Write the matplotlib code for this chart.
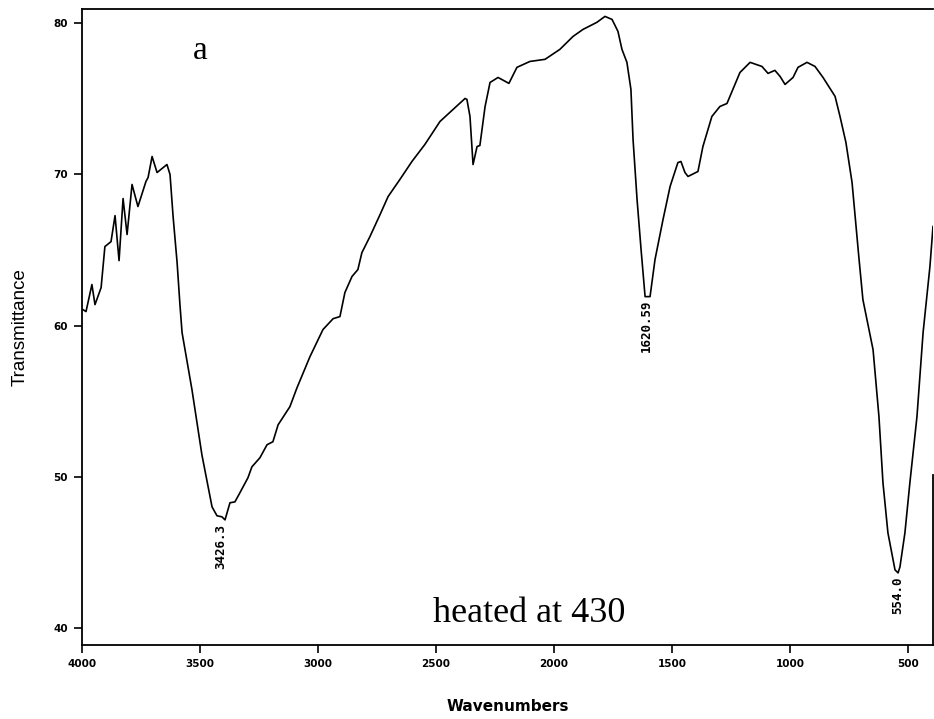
import numpy as np
import matplotlib
matplotlib.use("Agg")
import matplotlib.pyplot as plt

# spectrum (wavenumber in cm-1, transmittance)
wavenumber = [3996, 3983, 3958, 3945, 3919, 3903, 3877, 3860, 3843, 3826,
              3809, 3788, 3763, 3729, 3720, 3703, 3682, 3640, 3627, 3614,
              3597, 3585, 3576, 3534, 3492, 3449, 3428, 3407, 3394, 3373,
              3352, 3331, 3297, 3280, 3246, 3216, 3191, 3169, 3119, 3089,
              3034, 2979, 2936, 2907, 2886, 2856, 2831, 2814, 2780, 2737,
              2703, 2653, 2602, 2547, 2483, 2428, 2377, 2369, 2356, 2343,
              2326, 2314, 2292, 2271, 2237, 2191, 2157, 2102, 2038, 1975,
              1919, 1877, 1818, 1784, 1754, 1729, 1712, 1691, 1674, 1665,
              1648, 1631, 1614, 1593, 1572, 1538, 1508, 1475, 1462, 1445,
              1432, 1390, 1369, 1331, 1297, 1267, 1242, 1212, 1169, 1119,
              1093, 1064, 1042, 1021, 987, 966, 928, 894, 860, 809,
              788, 763, 737, 720, 708, 691, 648, 623, 606, 585,
              555, 542, 534, 513, 492, 462, 436, 407, 394]
transmittance = [61.06, 60.93, 62.72, 61.39, 62.52, 65.23, 65.56, 67.28, 64.30, 68.41,
                 66.03, 69.34, 67.88, 69.54, 69.80, 71.19, 70.13, 70.66, 70.00, 67.22,
                 64.17, 61.39, 59.54, 55.76, 51.46, 48.01, 47.42, 47.35, 47.15, 48.28,
                 48.34, 48.94, 49.93, 50.66, 51.26, 52.12, 52.32, 53.44, 54.64, 55.89,
                 57.95, 59.74, 60.46, 60.60, 62.19, 63.25, 63.71, 64.83, 65.89, 67.35,
                 68.54, 69.67, 70.86, 71.99, 73.51, 74.30, 75.03, 74.97, 73.84, 70.66,
                 71.85, 71.92, 74.50, 76.09, 76.42, 76.03, 77.09, 77.48, 77.62, 78.28,
                 79.14, 79.60, 80.07, 80.46, 80.26, 79.47, 78.28, 77.42, 75.63, 72.32,
                 68.34, 65.03, 61.92, 61.92, 64.37, 67.02, 69.21, 70.79, 70.86, 70.13,
                 69.87, 70.20, 71.85, 73.84, 74.50, 74.70, 75.63, 76.75, 77.42, 77.15,
                 76.69, 76.89, 76.49, 75.96, 76.42, 77.09, 77.42, 77.15, 76.42, 75.17,
                 73.84, 72.12, 69.47, 66.56, 64.50, 61.72, 58.41, 53.97, 49.60, 46.29,
                 43.84, 43.64, 44.04, 46.29, 49.60, 53.97, 59.54, 63.91, 66.56]

# peak labels: position and text
peak_pos = [3412, 1610, 543]
peak_top = [46.9, 61.7, 43.4]
peak_text = ["3426.3", "1620.59", "554.0"]

x_ticks = [4000, 3500, 3000, 2500, 2000, 1500, 1000, 500]
y_ticks = [40, 50, 60, 70, 80]

fig = plt.figure(figsize=(9.34, 7.19), dpi=100)
ax = fig.add_axes([82 / 934, 74 / 719, 851 / 934, 636 / 719])

ax.plot(wavenumber, transmittance, color="black", lw=1.2)

ax.set_xlim(4000, 394)
ax.set_ylim(38.87, 80.95)

ax.set_xticks(x_ticks)
ax.set_yticks(y_ticks)
ax.tick_params(direction="out", length=6, width=1.2, labelsize=7.5, pad=4)
for lab in ax.get_xticklabels() + ax.get_yticklabels():
    lab.set_fontweight("bold")

for side in ["left", "bottom", "top"]:
    ax.spines[side].set_linewidth(1.3)
ax.spines["right"].set_linewidth(1.3)
ax.spines["right"].set_bounds(38.87, 50.1)

ax.set_ylabel("Transmittance", fontsize=13.5, family="Liberation Sans", labelpad=18)
ax.set_xlabel("Wavenumbers", fontsize=11, fontweight="bold", labelpad=22)

for xp, yp, t in zip(peak_pos, peak_top, peak_text):
    ax.text(xp, yp, t, rotation=90, ha="center", va="top",
            fontsize=9, fontweight="bold", family="DejaVu Sans Mono")

ax.text(3500, 77.62, "a", fontsize=24, family="Liberation Serif", ha="center", va="baseline")
ax.text(1699, 40.4, "heated at 430", fontsize=26, family="Liberation Serif",
        ha="right", va="baseline")

fig.savefig("out.png", dpi=100)
